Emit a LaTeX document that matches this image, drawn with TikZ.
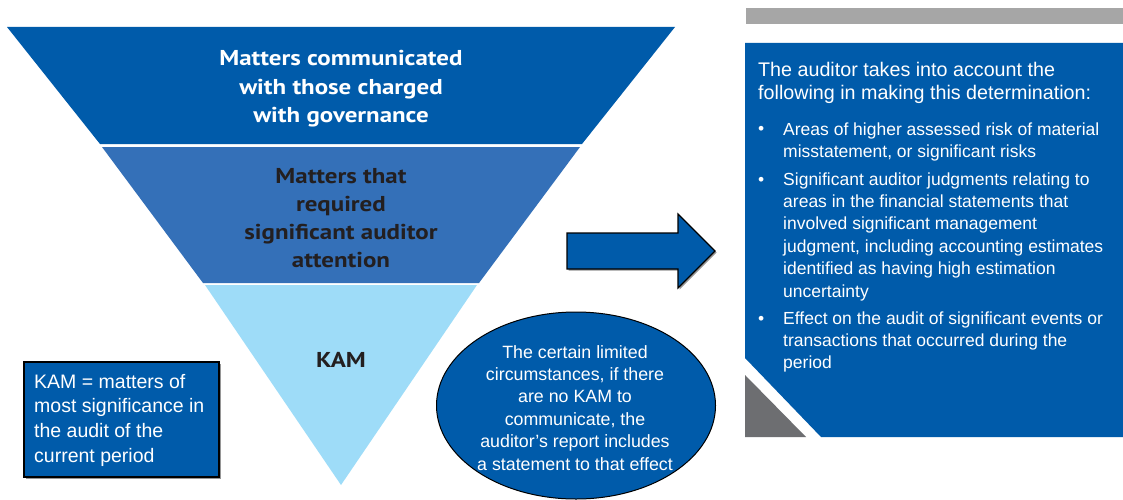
\documentclass[tikz,border=0pt]{standalone}
\usepackage{fontspec}
\setmainfont{Liberation Sans}
\newfontfamily\ptsans{PT Sans}[FakeStretch=1.16]
\usetikzlibrary{shapes.geometric}
\definecolor{bandA}{RGB}{0,91,170}
\definecolor{bandB}{RGB}{52,112,184}
\definecolor{bandC}{RGB}{158,220,248}
\definecolor{darktxt}{RGB}{35,31,32}
\definecolor{greybar}{RGB}{166,166,166}
\definecolor{greytri}{RGB}{109,110,113}
\definecolor{shadowgrey}{RGB}{150,150,150}
\tikzset{
  bandtxt/.style={inner sep=0pt, align=center, font=\ptsans\bfseries\fontsize{21.5}{28.2}\selectfont},
  outlined/.style={fill=bandA, draw=black, line width=1.1pt},
  bodytxt/.style={inner sep=0pt, align=left, text=white, font=\fontsize{17.5}{22.4}\selectfont},
  bulletdot/.style={inner sep=0pt, text=white, font=\fontsize{17.5}{22.4}\selectfont},
}
\begin{document}
\begin{tikzpicture}[x=1pt,y=-1pt]
\useasboundingbox (0,0) rectangle (1123,500);
\fill[white] (0,0) rectangle (1123,500);
% inverted pyramid
\fill[bandA] (7,27) -- (675,27) -- (582,144) -- (100,144) -- cycle;
\fill[bandB] (102,147) -- (580,147) -- (479,283) -- (203,283) -- cycle;
\fill[bandC] (205,285) -- (477,285) -- (341,485) -- cycle;
\node[bandtxt, text=white, anchor=base] (top) at (341,122.4)
  {Matters communicated\\with those charged\\with governance};
\node[bandtxt, text=darktxt, anchor=base] (mid) at (341,267.6)
  {Matters that\\required\\significant auditor\\attention};
\node[bandtxt, text=darktxt, anchor=base] (kam) at (341,367) {KAM};
% arrow
\fill[shadowgrey] (568.5,234.5) -- (679.5,234.5) -- (679.5,215.5) -- (716.5,252.5) -- (679.5,289.5) -- (679.5,270.5) -- (568.5,270.5) -- cycle;
\path[outlined] (567,233) -- (678,233) -- (678,214) -- (715,251) -- (678,288) -- (678,269) -- (567,269) -- cycle;
% KAM definition box
\fill[shadowgrey] (25.5,363.5) rectangle (220.5,478.5);
\node[outlined, minimum width=195pt, minimum height=115pt, inner sep=0pt] (defbox) at (121.5,419.5) {};
\node[inner sep=0pt, align=left, text=white, anchor=base west, font=\fontsize{19.5}{24.7}\selectfont] (deftxt) at (34,462.1)
  {KAM = matters of\\most significance in\\the audit of the\\current period};
% ellipse
\node[ellipse, outlined, line width=1pt, minimum width=279pt, minimum height=187pt, inner sep=0pt] (oval) at (576,405.5) {};
\node[inner sep=0pt, align=center, text=white, anchor=base, font=\fontsize{17.8}{22.4}\selectfont] (ovaltxt) at (575,470)
  {The certain limited\\circumstances, if there\\are no KAM to\\communicate, the\\auditor’s report includes\\a statement to that effect};
% right panel
\fill[greybar] (746,8) rectangle (1123,24);
\fill[bandA] (745,43) -- (1123,43) -- (1123,437) -- (821,437) -- (745,358) -- cycle;
\fill[greytri] (745,375) -- (745,437) -- (806,437) -- cycle;
\node[inner sep=0pt, align=left, text=white, anchor=base west, font=\fontsize{19.7}{24}\selectfont] (head) at (758,100)
  {The auditor takes into account the\\following in making this determination:};
\node[bulletdot, anchor=base west] (b1) at (758,135) {•};
\node[bodytxt, anchor=base west] (i1) at (783,157.4)
  {Areas of higher assessed risk of material\\misstatement, or significant risks};
\node[bulletdot, anchor=base west] (b2) at (758,185) {•};
\node[bodytxt, anchor=base west] (i2) at (783,297)
  {Significant auditor judgments relating to\\areas in the financial statements that\\involved significant management\\judgment, including accounting estimates\\identified as having high estimation\\uncertainty};
\node[bulletdot, anchor=base west] (b3) at (758,324) {•};
\node[bodytxt, anchor=base west] (i3) at (783,368.8)
  {Effect on the audit of significant events or\\transactions that occurred during the\\period};
\end{tikzpicture}
\end{document}
